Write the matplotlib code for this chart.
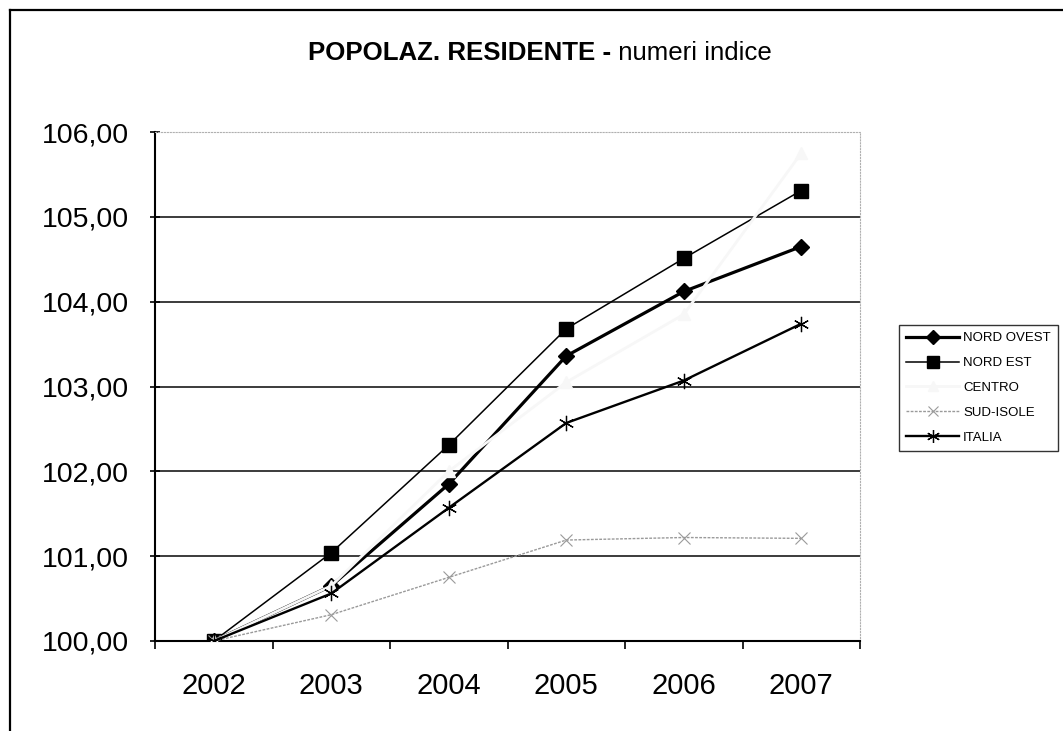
import matplotlib
matplotlib.use("Agg")
import matplotlib.pyplot as plt
import numpy as np
from matplotlib.lines import Line2D

plt.rcParams['font.family'] = ['Liberation Sans', 'DejaVu Sans']

# ---- data ----
years = ["2002", "2003", "2004", "2005", "2006", "2007"]
nord_ovest = [100.00, 100.65, 101.85, 103.36, 104.12, 104.65]
nord_est = [100.00, 101.04, 102.31, 103.68, 104.51, 105.31]
centro = [100.00, 100.65, 102.00, 103.05, 103.85, 105.75]
sud_isole = [100.00, 100.31, 100.75, 101.19, 101.22, 101.21]
italia = [100.00, 100.56, 101.57, 102.57, 103.07, 103.74]
series_names = ["NORD OVEST", "NORD EST", "CENTRO", "SUD-ISOLE", "ITALIA"]
y_ticks = [100, 101, 102, 103, 104, 105, 106]
title_bold = "POPOLAZ. RESIDENTE -"
title_normal = " numeri indice"

W, H = 1063, 731
fig = plt.figure(figsize=(W / 100, H / 100), dpi=100)
fig.patch.set_facecolor('white')

# outer chart border (left and top visible)
fig.add_artist(Line2D([10 / W, 10 / W], [0, 1 - 10 / H], transform=fig.transFigure,
                      color='black', lw=1.6))
fig.add_artist(Line2D([10 / W, 1], [1 - 10 / H, 1 - 10 / H], transform=fig.transFigure,
                      color='black', lw=1.6))

ax = fig.add_axes([155 / W, 1 - 641 / H, 705 / W, 509 / H])
x = np.arange(len(years))

# gridlines
for v in y_ticks[1:-1]:
    ax.axhline(v, color='#1a1a1a', lw=1.2, zorder=1)

ax.plot(x, nord_ovest, color='black', lw=2.3, marker='D', ms=8, mfc='black', mec='black',
        label=series_names[0], zorder=3)
ax.plot(x, nord_est, color='black', lw=1.1, marker='s', ms=10, mfc='black', mec='black',
        label=series_names[1], zorder=4)
ax.plot(x, centro, color='#f7f7f7', lw=2.0, marker='^', ms=8, mfc='#f7f7f7', mec='#f7f7f7',
        label=series_names[2], zorder=5)
ax.plot(x, sud_isole, color='#9a9a9a', lw=1.0, ls=(0, (2, 1)), marker='x', ms=8, mew=0.8,
        mec='#9a9a9a', label=series_names[3], zorder=6)
ax.plot(x, italia, color='black', lw=1.7, marker=(6, 2, 0), ms=11, mew=0.9, mec='black',
        label=series_names[4], zorder=7)

ax.set_xlim(-0.5, len(years) - 0.5)
ax.set_ylim(y_ticks[0], y_ticks[-1])

ax.set_yticks(y_ticks)
ax.set_yticklabels([f"{v:.2f}".replace('.', ',') for v in y_ticks], fontsize=20.5)
ax.tick_params(axis='y', direction='inout', length=7, width=1.2, pad=15.5, colors='black')

ax.set_xticks(np.arange(-0.5, len(years), 1.0))
ax.set_xticklabels([])
ax.tick_params(axis='x', which='major', direction='out', length=6, width=1.2)
ax.set_xticks(x, labels=years, minor=True)
ax.tick_params(axis='x', which='minor', length=0, pad=22, labelsize=21)

for s in ['left', 'bottom']:
    ax.spines[s].set_color('black')
    ax.spines[s].set_linewidth(1.5)
for s in ['top', 'right']:
    ax.spines[s].set_color('#b0b0b0')
    ax.spines[s].set_linewidth(0.8)
    ax.spines[s].set_linestyle(':')

leg = ax.legend(loc='upper right', bbox_to_anchor=(1058 / W, 1 - 325 / H),
                bbox_transform=fig.transFigure, fontsize=9.5, frameon=True, fancybox=False,
                edgecolor='black', handlelength=4.0, handletextpad=0.3, borderpad=0.55,
                labelspacing=0.95, borderaxespad=0, markerscale=0.85)
leg.get_frame().set_linewidth(1.0)

# title: bold part + normal part
t1 = fig.text(308 / W, 1 - 53 / H, title_bold, fontsize=18.6, fontweight='bold',
              ha='left', va='center')
fig.canvas.draw()
bb = t1.get_window_extent()
fig.text(bb.x1 / W, 1 - 53 / H, title_normal, fontsize=18.6, ha='left', va='center')

fig.savefig("out.png", dpi=100, facecolor='white')
